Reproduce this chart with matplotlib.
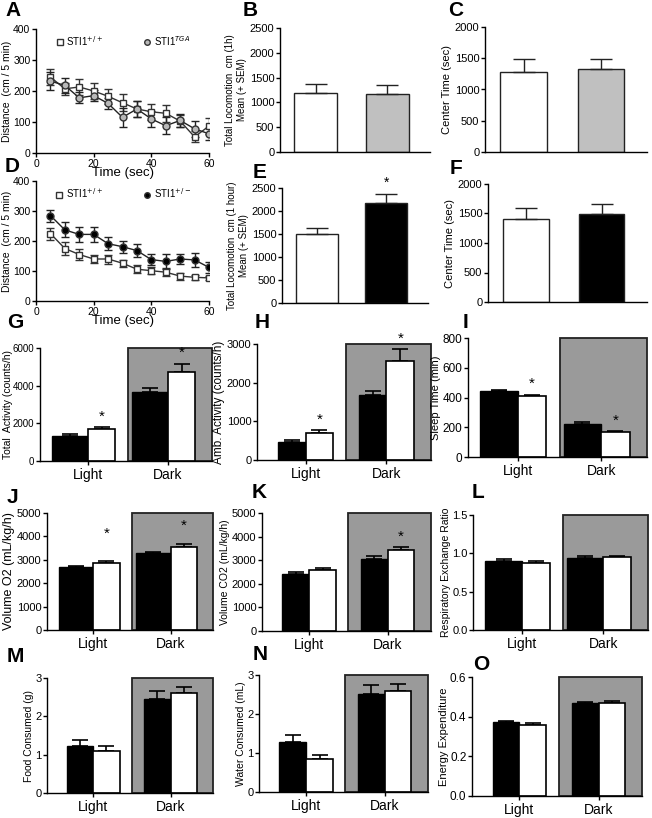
import matplotlib
matplotlib.use("Agg")
import matplotlib.pyplot as plt
from matplotlib.patches import Rectangle
from matplotlib.lines import Line2D

plt.rcParams['font.family'] = ['Liberation Sans', 'DejaVu Sans']

# ---- data ----
time = [5, 10, 15, 20, 25, 30, 35, 40, 45, 50, 55, 60]
a_wt = [245, 207, 213, 200, 183, 162, 142, 133, 128, 103, 52, 87]
a_wt_err = [25, 20, 25, 25, 25, 28, 25, 25, 28, 20, 18, 25]
a_tga = [232, 218, 178, 185, 160, 115, 142, 110, 88, 105, 78, 62]
a_tga_err = [28, 25, 18, 18, 18, 30, 25, 25, 28, 20, 25, 20]

d_wt = [225, 175, 155, 140, 140, 126, 106, 101, 96, 83, 79, 77]
d_wt_err = [20, 22, 18, 12, 15, 12, 14, 12, 14, 12, 8, 8]
d_het = [285, 237, 222, 222, 191, 181, 168, 138, 132, 140, 137, 112]
d_het_err = [20, 25, 25, 25, 22, 20, 22, 18, 25, 18, 22, 18]

b_vals, b_err = [1190, 1160], [190, 185]
c_vals, c_err = [1280, 1320], [210, 175]
e_vals, e_err = [1500, 2170], [140, 200]
f_vals, f_err = [1400, 1490], [200, 170]

periods = ['Light', 'Dark']
# black bars (light, dark) and white bars (light, dark)
g_blk, g_blk_err, g_wht, g_wht_err = [1350, 3680], [60, 180], [1700, 4750], [120, 420]
h_blk, h_blk_err, h_wht, h_wht_err = [470, 1680], [50, 110], [690, 2570], [80, 300]
i_blk, i_blk_err, i_wht, i_wht_err = [445, 225], [5, 8], [410, 165], [10, 10]
j_blk, j_blk_err, j_wht, j_wht_err = [2680, 3290], [40, 60], [2870, 3560], [60, 100]
k_blk, k_blk_err, k_wht, k_wht_err = [2400, 3060], [80, 110], [2570, 3430], [80, 110]
l_blk, l_blk_err, l_wht, l_wht_err = [0.90, 0.94], [0.03, 0.02], [0.88, 0.95], [0.02, 0.02]
m_blk, m_blk_err, m_wht, m_wht_err = [1.22, 2.45], [0.16, 0.22], [1.10, 2.62], [0.13, 0.15]
n_blk, n_blk_err, n_wht, n_wht_err = [1.27, 2.52], [0.20, 0.23], [0.85, 2.60], [0.10, 0.18]
o_blk, o_blk_err, o_wht, o_wht_err = [0.372, 0.470], [0.005, 0.005], [0.360, 0.470], [0.006, 0.008]

W, H = 652, 818
fig = plt.figure(figsize=(W / 100, H / 100), dpi=100)


def px_axes(l, r, t, b):
    return fig.add_axes([l / W, 1 - b / H, (r - l) / W, (b - t) / H])


def style(ax, fs=7):
    ax.spines['top'].set_visible(False)
    ax.spines['right'].set_visible(False)
    for s in ['left', 'bottom']:
        ax.spines[s].set_linewidth(1.0)
    ax.tick_params(labelsize=fs, width=1.0, length=3, direction='out', pad=1)


def letter(x, y, s):
    fig.text(x / W, 1 - y / H, s, fontsize=15, fontweight='bold', va='center', ha='left')


def line_panel(ax, wt, wt_e, mut, mut_e, mut_color, lab_wt, lab_mut, ylabel):
    ax.errorbar(time, wt, yerr=wt_e, color='#333333', lw=1, marker='s', ms=5,
                mfc='white', mec='#333333', capsize=3, elinewidth=1, zorder=3)
    ax.errorbar(time, mut, yerr=mut_e, color='#222222', lw=1, marker='o', ms=5,
                mfc=mut_color, mec='#333333', capsize=3, elinewidth=1, zorder=3)
    ax.set_xlim(0, 60)
    ax.set_ylim(0, 400)
    ax.set_xticks([0, 20, 40, 60])
    ax.set_yticks([0, 100, 200, 300, 400])
    style(ax, 7.5)
    ax.set_xlabel('Time (sec)', fontsize=9.5, labelpad=-1)
    ax.set_ylabel(ylabel, fontsize=7.5, labelpad=1)
    h = [Line2D([], [], ls='none', marker='s', ms=4, mfc='white', mec='#333333'),
         Line2D([], [], ls='none', marker='o', ms=4, mfc=mut_color, mec='#333333')]
    ax.legend(h, [lab_wt, lab_mut], ncol=2, frameon=False, loc='upper center', fontsize=7,
              handletextpad=0.2, columnspacing=4, handlelength=1.0,
              bbox_to_anchor=(0.5, 1.03))


def two_bar(ax, vals, errs, second_color, ymax, step, ylabel, lsize, star=False):
    x = [0, 1]
    ax.bar(x, vals, width=0.6, color=['white', second_color], edgecolor='#222222', lw=1)
    ax.errorbar(x, vals, yerr=[[0, 0], errs], fmt='none', ecolor='#222222',
                elinewidth=1, capsize=8, capthick=1)
    if star:
        ax.text(1, vals[1] + errs[1] + ymax * 0.04, '*', ha='center', va='bottom', fontsize=10)
    ax.set_xlim(-0.5, 1.6)
    ax.set_ylim(0, ymax)
    ax.set_yticks(range(0, ymax + 1, step))
    ax.set_xticks([])
    style(ax, 8)
    ax.set_ylabel(ylabel, fontsize=lsize, labelpad=2)


def ld_panel(ax, blk, blk_e, wht, wht_e, ymax, step, ylabel, lsize, tsize,
             stars=(), star_y=None, blk_w=0.34, fmt=None, label_x=None):
    x = [0, 1]
    bw = 0.34
    ax.add_patch(Rectangle((0.5, 0), 1.05, ymax, facecolor='#9a9a9a',
                           edgecolor='#222222', lw=1.3, zorder=0.5, clip_on=False))
    bx = [xi - blk_w for xi in x]
    ax.bar(bx, blk, width=blk_w, align='edge', color='black', edgecolor='black', lw=1, zorder=2)
    ax.errorbar([xi - blk_w / 2 for xi in x], blk, yerr=[[0, 0], blk_e], fmt='none',
                ecolor='black', elinewidth=1.2, capsize=6, capthick=1.2, zorder=1.5)
    ax.bar([xi + bw / 2 for xi in x], wht, width=bw, color='white', edgecolor='black', lw=1.2, zorder=2)
    ax.errorbar([xi + bw / 2 for xi in x], wht, yerr=[[0, 0], wht_e], fmt='none', ecolor='black',
                elinewidth=1.2, capsize=6, capthick=1.2, zorder=1.5)
    for k in stars:
        y = star_y[k] if star_y else wht[k] + wht_e[k] + ymax * 0.03
        ax.text(k + bw / 2, y, '*', ha='center', va='bottom', fontsize=11)
    ax.set_xlim(-0.6, 1.55)
    ax.set_ylim(0, ymax)
    ax.set_xticks(x)
    ax.set_xticklabels(periods)
    ax.set_yticks([i * step for i in range(int(round(ymax / step)) + 1)])
    if fmt:
        ax.yaxis.set_major_formatter(plt.FormatStrFormatter(fmt))
    style(ax, tsize)
    ax.tick_params(axis='x', labelsize=10, pad=2)
    ax.set_ylabel(ylabel, fontsize=lsize, labelpad=1)
    if label_x is not None:
        ax.yaxis.set_label_coords(label_x, 0.5)


# ---- row 1 ----
axA = px_axes(36, 209, 29, 153)
line_panel(axA, a_wt, a_wt_err, a_tga, a_tga_err, '#b8b8b8',
           'STI1$^{+/+}$', 'STI1$^{TGA}$', 'Distance  (cm / 5 min)')
letter(5, 11, 'A')

axB = px_axes(280, 430, 28, 152)
two_bar(axB, b_vals, b_err, '#c0c0c0', 2500, 500, 'Total Locomotion  cm (1h)\nMean (+ SEM)', 7)
letter(243, 11, 'B')

axC = px_axes(485, 647, 27, 152)
two_bar(axC, c_vals, c_err, '#c0c0c0', 2000, 500, 'Center Time (sec)', 8)
letter(448, 11, 'C')

# ---- row 2 ----
axD = px_axes(36, 209, 181, 301)
line_panel(axD, d_wt, d_wt_err, d_het, d_het_err, 'black',
           'STI1$^{+/+}$', 'STI1$^{+/-}$', 'Distance  (cm / 5 min)')
letter(5, 166, 'D')

axE = px_axes(282, 428, 188, 303)
two_bar(axE, e_vals, e_err, 'black', 2500, 500, 'Total Locomotion  cm (1 hour)\nMean (+ SEM)', 7, star=True)
letter(253, 172, 'E')

axF = px_axes(488, 647, 184, 302)
two_bar(axF, f_vals, f_err, 'black', 2000, 500, 'Center Time (sec)', 8)
letter(450, 168, 'F')

# ---- row 3 ----
axG = px_axes(40, 212, 348, 461)
ld_panel(axG, g_blk, g_blk_err, g_wht, g_wht_err, 6000, 2000,
         'Total  Activity (counts/h)', 7.5, 7, stars=(0, 1), blk_w=0.45, label_x=-0.157)
letter(7, 323, 'G')

axH = px_axes(257, 431, 344, 460)
ld_panel(axH, h_blk, h_blk_err, h_wht, h_wht_err, 3000, 1000,
         'Amb. Activity (counts/h)', 8.5, 8, stars=(0, 1))
letter(255, 322, 'H')

axI = px_axes(468, 647, 338, 457)
ld_panel(axI, i_blk, i_blk_err, i_wht, i_wht_err, 800, 200,
         'Sleep Time (min)', 8, 8.5, stars=(0, 1), blk_w=0.45)
letter(463, 322, 'I')

# ---- row 4 ----
axJ = px_axes(47, 213, 513, 630)
ld_panel(axJ, j_blk, j_blk_err, j_wht, j_wht_err, 5000, 1000,
         'Volume O2 (mL/kg/h)', 9, 8, stars=(0, 1), star_y=[3800, 4150], blk_w=0.45)
letter(7, 497, 'J')

axK = px_axes(262, 431, 513, 631)
ld_panel(axK, k_blk, k_blk_err, k_wht, k_wht_err, 5000, 1000,
         'Volume CO2 (mL/kg/h)', 7.5, 8, stars=(1,))
letter(252, 492, 'K')

axL = px_axes(473, 648, 515, 630)
ld_panel(axL, l_blk, l_blk_err, l_wht, l_wht_err, 1.5, 0.5,
         'Respiratory Exchange Ratio', 7.5, 8, blk_w=0.45, fmt='%.1f')
letter(472, 492, 'L')

# ---- row 5 ----
axM = px_axes(47, 213, 678, 793)
ld_panel(axM, m_blk, m_blk_err, m_wht, m_wht_err, 3, 1,
         'Food Consumed (g)', 7.5, 8)
letter(7, 657, 'M')

axN = px_axes(259, 428, 675, 792)
ld_panel(axN, n_blk, n_blk_err, n_wht, n_wht_err, 3, 1,
         'Water Consumed (mL)', 7.5, 8)
letter(253, 655, 'N')

axO = px_axes(472, 642, 677, 796)
ld_panel(axO, o_blk, o_blk_err, o_wht, o_wht_err, 0.6, 0.2,
         'Energy Expenditure', 8, 8.5, fmt='%.1f')
letter(473, 665, 'O')

fig.savefig('out.png', dpi=100)
